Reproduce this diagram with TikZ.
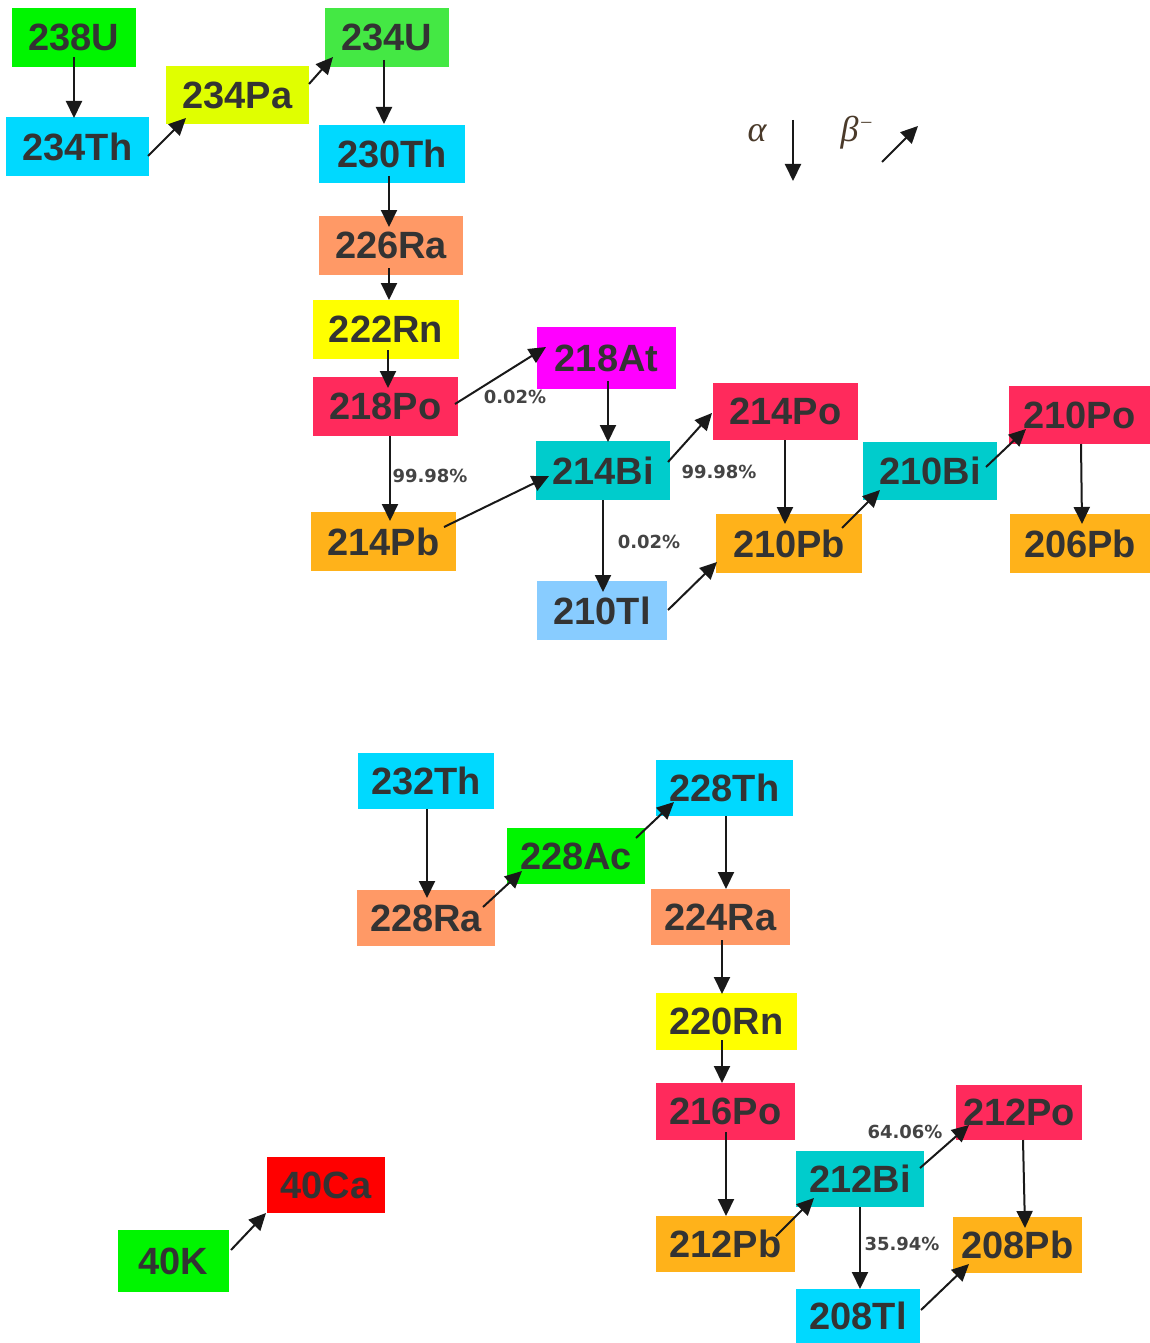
\documentclass[tikz,border=0pt]{standalone}
\usepackage{fontspec}
\setmainfont{Liberation Sans}
\newfontfamily\lblfont{DejaVu Sans}
\newfontfamily\legfont{Liberation Serif}
\usetikzlibrary{arrows.meta}
\definecolor{txt}{HTML}{333333}
\definecolor{cgreen}{HTML}{00F500}
\definecolor{cgreenb}{HTML}{44E844}
\definecolor{ccyan}{HTML}{00D9FF}
\definecolor{cygreen}{HTML}{E0FF00}
\definecolor{csalmon}{HTML}{FF9966}
\definecolor{cyellow}{HTML}{FFFF00}
\definecolor{ccrimson}{HTML}{FF2A5C}
\definecolor{cmagenta}{HTML}{FF00FF}
\definecolor{cteal}{HTML}{00CCCC}
\definecolor{corange}{HTML}{FFB21A}
\definecolor{clblue}{HTML}{88CCFF}
\definecolor{cred}{HTML}{FF0000}
\definecolor{lbltxt}{HTML}{444444}
\definecolor{legtxt}{HTML}{4A3A2A}
\tikzset{
  iso/.style={rectangle, inner sep=0pt, text=txt, font=\bfseries\fontsize{38}{40}\selectfont},
  pct/.style={inner sep=0pt, text=lbltxt, font=\lblfont\bfseries\fontsize{18}{20}\selectfont},
  arr/.style={line width=2pt, draw=black!90, -{Triangle[length=17pt,width=16pt]}},
  leg/.style={inner sep=0pt, text=legtxt, font=\legfont\itshape\fontsize{36}{36}\selectfont},
}
\begin{document}
\begin{tikzpicture}[x=1pt,y=-1pt]
\useasboundingbox[fill=white] (0,0) rectangle (1150,1343);
% uranium series
\node[iso, fill=cgreen, minimum width=124pt, minimum height=59pt] (U238) at (74,37.5) {238U};
\node[iso, fill=ccyan, minimum width=143pt, minimum height=59pt] (Th234) at (77.5,146.5) {234Th};
\node[iso, fill=cygreen, minimum width=143pt, minimum height=58pt] (Pa234) at (237.5,95) {234Pa};
\node[iso, fill=cgreenb, minimum width=124pt, minimum height=59pt] (U234) at (387,37.5) {234U};
\node[iso, fill=ccyan, minimum width=146pt, minimum height=58pt] (Th230) at (392,154) {230Th};
\node[iso, fill=csalmon, minimum width=144pt, minimum height=59pt] (Ra226) at (391,245.5) {226Ra};
\node[iso, fill=cyellow, minimum width=146pt, minimum height=59pt] (Rn222) at (386,329.5) {222Rn};
\node[iso, fill=ccrimson, minimum width=145pt, minimum height=59pt] (Po218) at (385.5,406.5) {218Po};
\node[iso, fill=cmagenta, minimum width=139pt, minimum height=62pt] (At218) at (606.5,358) {218At};
\node[iso, fill=cteal, minimum width=134pt, minimum height=59pt] (Bi214) at (603,470.5) {214Bi};
\node[iso, fill=corange, minimum width=145pt, minimum height=59pt] (Pb214) at (383.5,541.5) {214Pb};
\node[iso, fill=clblue, minimum width=130pt, minimum height=59pt] (Tl210) at (602,610.5) {210Tl};
\node[iso, fill=ccrimson, minimum width=145pt, minimum height=57pt] (Po214) at (785.5,411.5) {214Po};
\node[iso, fill=corange, minimum width=146pt, minimum height=59pt] (Pb210) at (789,543.5) {210Pb};
\node[iso, fill=cteal, minimum width=134pt, minimum height=58pt] (Bi210) at (930,471) {210Bi};
\node[iso, fill=ccrimson, minimum width=141pt, minimum height=58pt] (Po210) at (1079.5,415) {210Po};
\node[iso, fill=corange, minimum width=140pt, minimum height=59pt] (Pb206) at (1080,543.5) {206Pb};
% thorium series
\node[iso, fill=ccyan, minimum width=136pt, minimum height=56pt] (Th232) at (426,781) {232Th};
\node[iso, fill=csalmon, minimum width=138pt, minimum height=56pt] (Ra228) at (426,918) {228Ra};
\node[iso, fill=cgreen, minimum width=138pt, minimum height=56pt] (Ac228) at (576,856) {228Ac};
\node[iso, fill=ccyan, minimum width=137pt, minimum height=56pt] (Th228) at (724.5,788) {228Th};
\node[iso, fill=csalmon, minimum width=139pt, minimum height=56pt] (Ra224) at (720.5,917) {224Ra};
\node[iso, fill=cyellow, minimum width=141pt, minimum height=57pt] (Rn220) at (726.5,1021.5) {220Rn};
\node[iso, fill=ccrimson, minimum width=139pt, minimum height=57pt] (Po216) at (725.5,1111.5) {216Po};
\node[iso, fill=corange, minimum width=139pt, minimum height=56pt] (Pb212) at (725.5,1244) {212Pb};
\node[iso, fill=cteal, minimum width=128pt, minimum height=56pt] (Bi212) at (860,1179) {212Bi};
\node[iso, fill=ccrimson, minimum width=126pt, minimum height=55pt] (Po212) at (1019,1112.5) {212Po};
\node[iso, fill=corange, minimum width=129pt, minimum height=56pt] (Pb208) at (1017.5,1245) {208Pb};
\node[iso, fill=ccyan, minimum width=124pt, minimum height=54pt] (Tl208) at (858,1316) {208Tl};
% potassium
\node[iso, fill=cgreen, minimum width=111pt, minimum height=62pt] (K40) at (173.5,1261) {40K};
\node[iso, fill=cred, minimum width=118pt, minimum height=56pt] (Ca40) at (326,1185) {40Ca};
% arrows
\draw[arr] ([shift={(0,19.5)}]U238.center) -- ([shift={(-3.5,-28.5)}]Th234.center);
\draw[arr] ([shift={(70.5,9.5)}]Th234.center) -- ([shift={(-51.5,23)}]Pa234.center);
\draw[arr] ([shift={(71.5,-11)}]Pa234.center) -- ([shift={(-54,19.5)}]U234.center);
\draw[arr] ([shift={(-3,22.5)}]U234.center) -- ([shift={(-8,-30)}]Th230.center);
\draw[arr] ([shift={(-3,22)}]Th230.center) -- ([shift={(-2,-18.5)}]Ra226.center);
\draw[arr] ([shift={(-2,22.5)}]Ra226.center) -- ([shift={(3,-29.5)}]Rn222.center);
\draw[arr] ([shift={(2,20.5)}]Rn222.center) -- ([shift={(2.5,-18.5)}]Po218.center);
\draw[arr] ([shift={(69.5,-2.5)}]Po218.center) -- ([shift={(-60.5,-11)}]At218.center);
\draw[arr] ([shift={(4.5,29.5)}]Po218.center) -- ([shift={(6.5,-20.5)}]Pb214.center);
\draw[arr] ([shift={(60.5,-14.5)}]Pb214.center) -- ([shift={(-54,5.5)}]Bi214.center);
\draw[arr] ([shift={(1.5,23)}]At218.center) -- ([shift={(5,-28.5)}]Bi214.center);
\draw[arr] ([shift={(0,29.5)}]Bi214.center) -- ([shift={(1,-18.5)}]Tl210.center);
\draw[arr] ([shift={(65,-8.5)}]Bi214.center) -- ([shift={(-73.5,1.5)}]Po214.center);
\draw[arr] ([shift={(66,-0.5)}]Tl210.center) -- ([shift={(-72,18.5)}]Pb210.center);
\draw[arr] ([shift={(-0.5,28.5)}]Po214.center) -- ([shift={(-4,-19.5)}]Pb210.center);
\draw[arr] ([shift={(53,-15.5)}]Pb210.center) -- ([shift={(-50,19)}]Bi210.center);
\draw[arr] ([shift={(56,-4)}]Bi210.center) -- ([shift={(-53.5,14)}]Po210.center);
\draw[arr] ([shift={(1.5,29)}]Po210.center) -- ([shift={(2,-19.5)}]Pb206.center);
\draw[arr] ([shift={(1,28)}]Th232.center) -- ([shift={(1,-20)}]Ra228.center);
\draw[arr] ([shift={(57,-11)}]Ra228.center) -- ([shift={(-54,15)}]Ac228.center);
\draw[arr] ([shift={(60,-18)}]Ac228.center) -- ([shift={(-50.5,14)}]Th228.center);
\draw[arr] ([shift={(1.5,28)}]Th228.center) -- ([shift={(5.5,-28)}]Ra224.center);
\draw[arr] ([shift={(1.5,23)}]Ra224.center) -- ([shift={(-4.5,-27.5)}]Rn220.center);
\draw[arr] ([shift={(-4.5,18.5)}]Rn220.center) -- ([shift={(-3.5,-28.5)}]Po216.center);
\draw[arr] ([shift={(0.5,20.5)}]Po216.center) -- ([shift={(0.5,-28)}]Pb212.center);
\draw[arr] ([shift={(50.5,-8)}]Pb212.center) -- ([shift={(-46,19)}]Bi212.center);
\draw[arr] ([shift={(60,-11)}]Bi212.center) -- ([shift={(-50,12.5)}]Po212.center);
\draw[arr] ([shift={(0,28)}]Bi212.center) -- ([shift={(2,-27)}]Tl208.center);
\draw[arr] ([shift={(4,27.5)}]Po212.center) -- ([shift={(7.5,-17)}]Pb208.center);
\draw[arr] ([shift={(63,-6)}]Tl208.center) -- ([shift={(-48.5,19)}]Pb208.center);
\draw[arr] ([shift={(57.5,-11)}]K40.center) -- ([shift={(-60,28)}]Ca40.center);
% branching ratios
\node[pct] (p1) at (515,397) {0.02\%};
\node[pct] (p2) at (430,476) {99.98\%};
\node[pct] (p3) at (649,542) {0.02\%};
\node[pct] (p4) at (719,472) {99.98\%};
\node[pct] (p5) at (905,1132) {64.06\%};
\node[pct] (p6) at (902,1244) {35.94\%};
% legend
\node[leg] (la) at (757,133) {α};
\node[leg] (lb) at (856,133) {β\kern3pt\raisebox{14pt}{\fontsize{20}{20}\selectfont –}};
\coordinate (a1) at (793,120);
\coordinate (a2) at (793,181);
\coordinate (b1) at (882,162);
\coordinate (b2) at (918,126);
\draw[arr] (a1) -- (a2);
\draw[arr] (b1) -- (b2);
\end{tikzpicture}
\end{document}
